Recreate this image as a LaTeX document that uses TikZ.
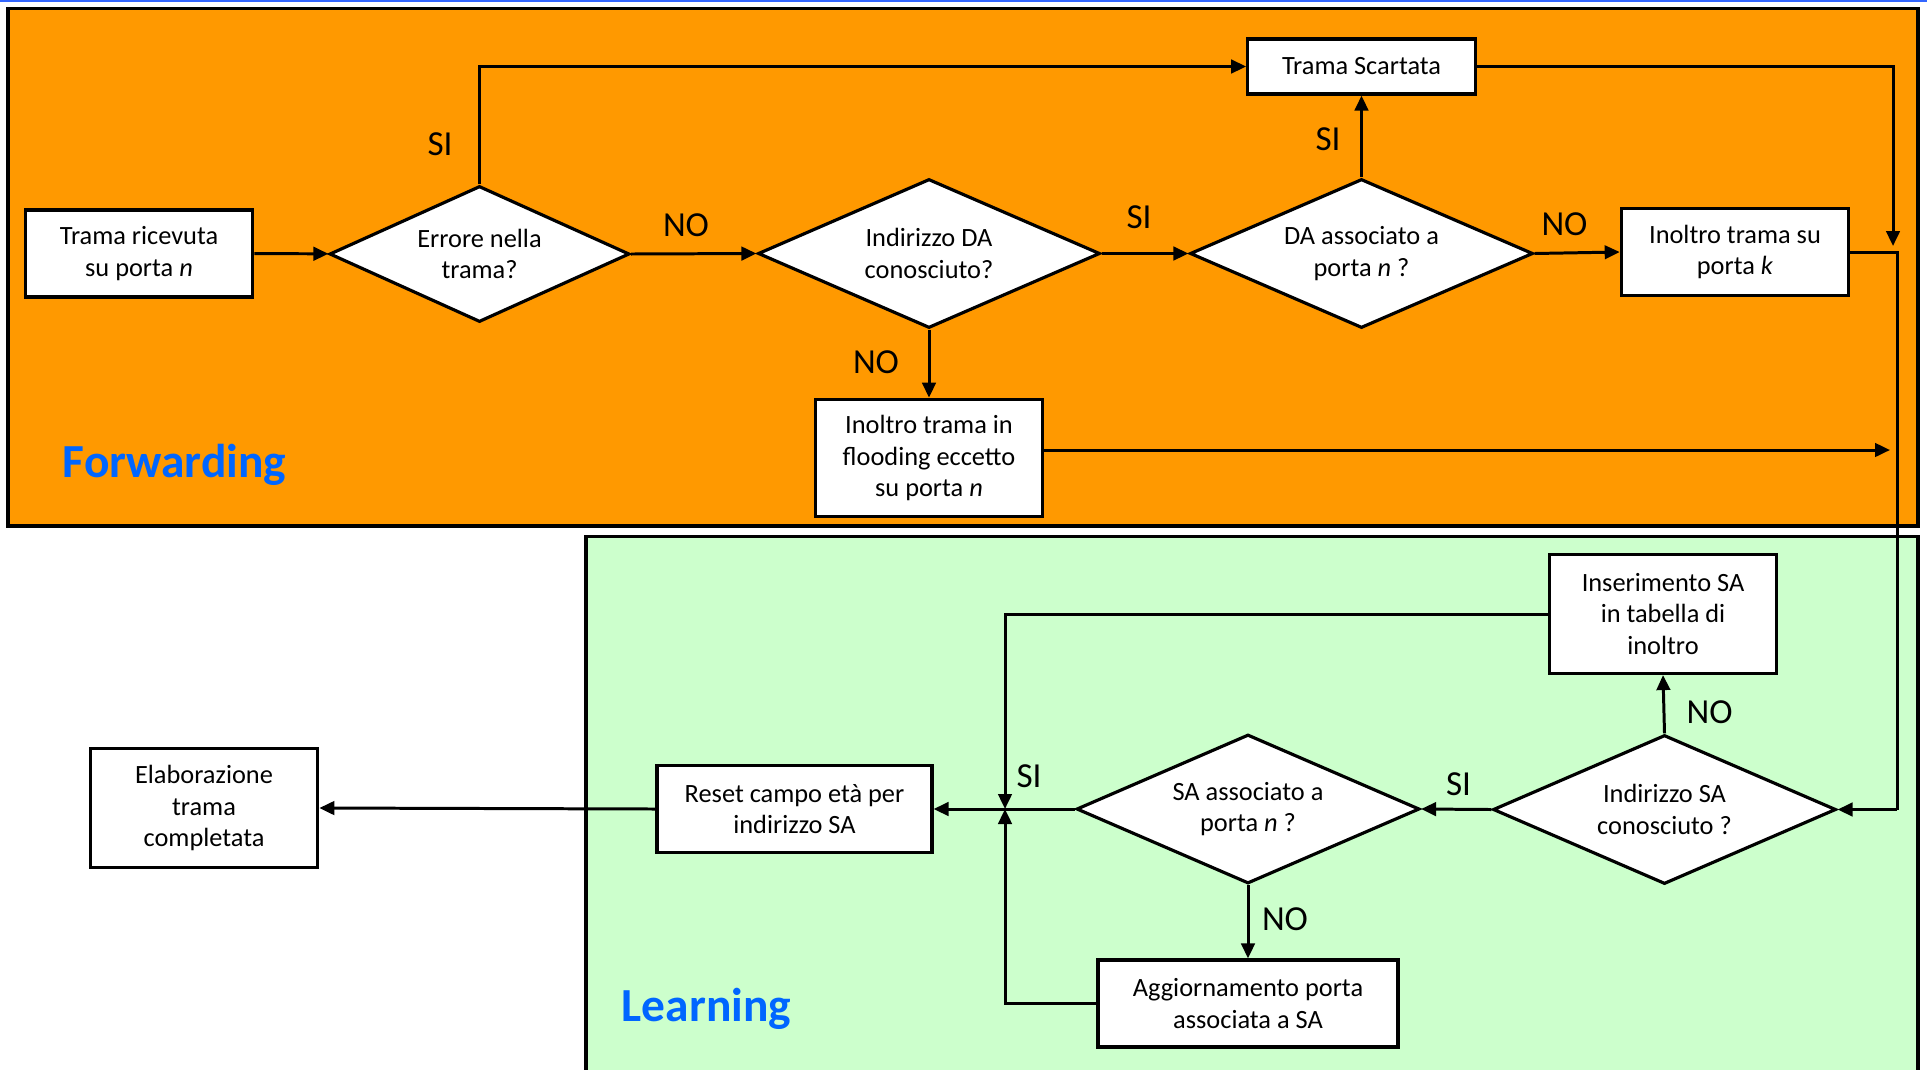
\documentclass[tikz,border=0pt]{standalone}
\usepackage{fontspec}
\setmainfont{Carlito}
\usepackage{xcolor}
\usepackage{tikz}
\usetikzlibrary{shapes.geometric,arrows.meta}
\definecolor{fwdorange}{HTML}{FF9900}
\definecolor{lrngreen}{HTML}{CCFFCC}
\definecolor{titleblue}{HTML}{0066FF}
\definecolor{selblue}{HTML}{3366FF}
\tikzset{
  flow box/.style={draw, line width=1.8pt, fill=white, align=center, inner sep=2pt,
    minimum width=4.55cm, minimum height=1.74cm,
    font=\fontsize{15pt}{18pt}\selectfont},
  flow decision/.style={diamond, aspect=2.3, draw, line width=1.8pt, fill=white,
    align=center, inner sep=0pt, minimum width=6.86cm, minimum height=2.98cm,
    font=\fontsize{15pt}{18pt}\selectfont},
  flow line/.style={line width=1.7pt},
  flow arrow/.style={line width=1.7pt, -{Triangle[length=0.3cm,width=0.27cm]}},
  branch label/.style={inner sep=0pt, font=\fontsize{20pt}{24pt}\selectfont},
  area title/.style={anchor=base west, inner sep=0pt, text=titleblue,
    font=\fontsize{27pt}{32pt}\selectfont\bfseries},
}

\begin{document}
\begin{tikzpicture}
  \useasboundingbox (0,0) rectangle (38.54,-21.38);
  % areas
  \draw[selblue, line width=1.2pt] (0,-0.02) -- (38.54,-0.02);
  \draw[fill=fwdorange, line width=1.8pt] (0.16,-0.17) rectangle (38.36,-10.52);
  \fill[lrngreen] (11.72,-10.73) rectangle (38.36,-21.5);
  \draw[line width=1.8pt] (11.72,-21.5) |- (38.36,-10.73) -- (38.36,-21.5);
  \node[area title] (fwdtitle) at (1.25,-9.54) {Forwarding};
  \node[area title] (lrntitle) at (12.43,-20.43) {Learning};

  % forwarding
  \node[flow box] (recv) at (2.78,-5.07) {Trama ricevuta\\su porta \emph{n}};
  \node[flow decision, minimum width=6.0cm, minimum height=2.72cm] (err) at (9.59,-5.08) {Errore nella\\trama?};
  \node[flow decision, minimum width=6.84cm] (daknown) at (18.58,-5.07) {Indirizzo DA\\conosciuto?};
  \node[flow decision] (daport) at (27.23,-5.07) {DA associato a\\porta \emph{n} ?};
  \node[flow box, minimum height=1.10cm] (drop) at (27.23,-1.33) {Trama Scartata};
  \node[flow box] (fwdk) at (34.70,-5.04) {Inoltro trama su\\porta \emph{k}};
  \node[flow box, minimum height=2.35cm] (flood) at (18.58,-9.16) {Inoltro trama in\\flooding eccetto\\su porta \emph{n}};

  % learning
  \node[flow decision] (saknown) at (33.29,-16.19) {Indirizzo SA\\conosciuto ?};
  \node[flow decision] (saport) at (24.96,-16.18) {SA associato a\\porta \emph{n} ?};
  \node[flow box, minimum height=2.38cm] (insert) at (33.26,-12.28) {Inserimento SA\\in tabella di\\inoltro};
  \node[flow box, minimum width=6.0cm] (update) at (24.96,-20.07) {Aggiornamento porta\\associata a SA};
  \node[flow box, minimum width=5.5cm, minimum height=1.73cm] (reset) at (15.89,-16.18) {Reset campo età per\\indirizzo SA};
  \node[flow box, minimum height=2.38cm] (done) at (4.08,-16.16) {Elaborazione\\trama\\completata};

  \coordinate (dropin) at (37.86,-4.92);
  \coordinate (floodin) at (37.80,-9.0);
  \coordinate (bend) at (37.94,-16.19);
  \coordinate (join) at (20.10,-16.18);

  % connectors
  \draw[flow arrow] (recv) -- (err);
  \draw[flow arrow] (err.north) |- (drop.west);
  \draw[flow arrow] (err.east) -- (daknown.west);
  \draw[flow arrow] (daknown.south) -- (flood.north);
  \draw[flow arrow] (daknown.east) -- (daport.west);
  \draw[flow arrow] (daport.north) -- (drop.south);
  \draw[flow arrow] (daport.east) -- (fwdk.west);
  \draw[flow arrow] (drop.east) -| (dropin);
  \draw[flow arrow] (flood.east |- floodin) -- (floodin);
  \draw[flow line] (fwdk.east) -| (bend);
  \draw[flow arrow] (bend) -- (saknown.east);
  \draw[flow arrow] (saknown.north) -- (insert.south);
  \draw[flow arrow] (saknown.west) -- (saport.east);
  \draw[flow arrow] (saport.south) -- (update.north);
  \draw[flow arrow] (saport.west) -- (reset.east);
  \draw[flow arrow] (insert.west) -| (join);
  \draw[flow arrow] (update.west) -| (join);
  \draw[flow arrow] (reset.west) -- (done.east);

  % branch labels
  \node[branch label] (l1) at (8.80,-2.89) {SI};
  \node[branch label] (l2) at (13.72,-4.51) {NO};
  \node[branch label] (l3) at (17.52,-7.24) {NO};
  \node[branch label] (l4) at (22.78,-4.34) {SI};
  \node[branch label] (l5) at (26.56,-2.78) {SI};
  \node[branch label] (l6) at (31.29,-4.48) {NO};
  \node[branch label] (l7) at (29.17,-15.68) {SI};
  \node[branch label] (l8) at (34.19,-14.25) {NO};
  \node[branch label] (l9) at (20.58,-15.53) {SI};
  \node[branch label] (l10) at (25.70,-18.38) {NO};
\end{tikzpicture}
\end{document}
